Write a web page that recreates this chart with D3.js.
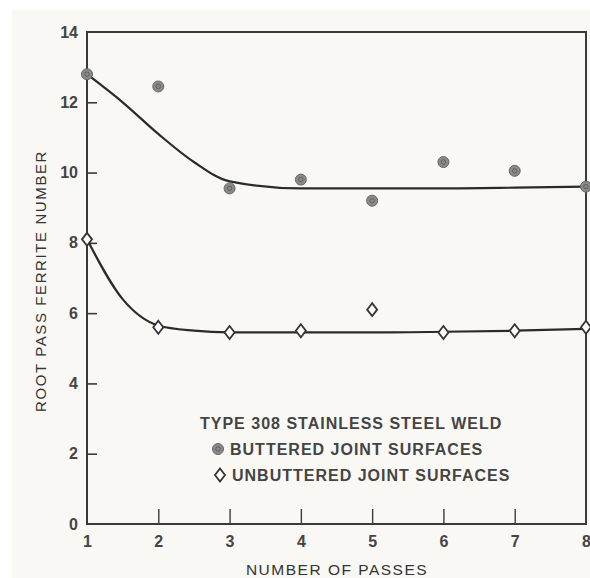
<!DOCTYPE html>
<html>
<head>
<meta charset="utf-8">
<script src="https://cdn.jsdelivr.net/npm/d3@7"></script>
<style>
  body { margin: 0; background: #fff; }
  svg text { font-family: "Liberation Sans", Arial, sans-serif; fill: #333; }
</style>
</head>
<body>
<svg id="drawing_region"></svg>
<script>
// measured values
const passes = [1, 2, 3, 4, 5, 6, 7, 8];
const buttered = [12.8, 12.45, 9.55, 9.8, 9.2, 10.3, 10.05, 9.6];
const unbuttered = [8.1, 5.6, 5.45, 5.5, 6.1, 5.45, 5.5, 5.6];

// hand-drawn fit curves
const fitX = [1, 1.5, 2, 2.5, 3, 4, 5, 6, 7, 8];
const butteredFit = [12.8, 12.0, 11.1, 10.3, 9.75, 9.55, 9.55, 9.55, 9.57, 9.6];
const unbutteredFit = [8.1, 6.4, 5.65, 5.5, 5.45, 5.45, 5.45, 5.47, 5.5, 5.55];

const yTicks = [0, 2, 4, 6, 8, 10, 12, 14];
const xTickLabels = ['1', '2', '3', '4', '5', '6', '7', '8'];

const legendTitle = 'TYPE 308 STAINLESS STEEL WELD';
const legendItems = ['BUTTERED JOINT SURFACES', 'UNBUTTERED JOINT SURFACES'];

const config = {
    width: 590,
    height: 578,
    margin: {top: 32, right: 4, bottom: 54, left: 87},
};

const svg = d3.select('#drawing_region')
    .attr('width', config.width)
    .attr('height', config.height);

svg.append('rect')
    .attr('x', 12).attr('y', 10)
    .attr('width', config.width - 12).attr('height', config.height - 10)
    .attr('fill', '#faf8f5');

const inner_width = config.width - config.margin.left - config.margin.right;
const inner_height = config.height - config.margin.top - config.margin.bottom;

const chart = svg.append('g')
    .attr('transform', `translate(${config.margin.left}, ${config.margin.top})`);

const xscale = d3.scaleLinear().domain([1, 8]).range([0, inner_width]);
const yscale = d3.scaleLinear().domain([0, 14]).range([inner_height, 0]);

const ink = '#3a3a3a';

// frame
chart.append('rect')
    .attr('width', inner_width)
    .attr('height', inner_height)
    .attr('fill', 'none')
    .attr('stroke', ink)
    .attr('stroke-width', 2);

// y axis (ticks inward)
const yaxis = d3.axisLeft(yscale)
    .tickValues(yTicks)
    .tickSize(-10)
    .tickPadding(9)
    .tickSizeOuter(0);
const yg = chart.append('g').call(yaxis);
yg.select('.domain').remove();
yg.selectAll('.tick line')
    .attr('stroke', ink).attr('stroke-width', 1.6)
    .attr('display', d => (d === 0 || d === 14) ? 'none' : null);
yg.selectAll('.tick text')
    .attr('font-size', 16).attr('font-weight', 'bold').style('fill', '#444');

// x axis (ticks inward)
const xaxis = d3.axisBottom(xscale)
    .tickValues(passes)
    .tickFormat((d, i) => xTickLabels[i])
    .tickSize(-15)
    .tickPadding(12)
    .tickSizeOuter(0);
const xg = chart.append('g')
    .attr('transform', `translate(0, ${inner_height})`)
    .call(xaxis);
xg.select('.domain').remove();
xg.selectAll('.tick line')
    .attr('stroke', ink).attr('stroke-width', 1.4)
    .attr('display', d => (d === 1 || d === 8) ? 'none' : null);
xg.selectAll('.tick text')
    .attr('font-size', 16).attr('font-weight', 'bold').style('fill', '#444');

// axis titles
svg.append('text')
    .attr('transform', 'translate(46, 281) rotate(-90)')
    .attr('text-anchor', 'middle')
    .attr('font-size', 15)
    .attr('letter-spacing', 1.6)
    .text('ROOT PASS FERRITE NUMBER');

svg.append('text')
    .attr('x', 337)
    .attr('y', 575)
    .attr('text-anchor', 'middle')
    .attr('font-size', 15.5)
    .attr('letter-spacing', 1.5)
    .text('NUMBER OF PASSES');

// fit curves
const line = d3.line()
    .x(d => xscale(d[0]))
    .y(d => yscale(d[1]))
    .curve(d3.curveMonotoneX);

chart.append('path')
    .attr('d', line(fitX.map((x, i) => [x, butteredFit[i]])))
    .attr('fill', 'none').attr('stroke', '#2a2a2a').attr('stroke-width', 2.2);
chart.append('path')
    .attr('d', line(fitX.map((x, i) => [x, unbutteredFit[i]])))
    .attr('fill', 'none').attr('stroke', '#2a2a2a').attr('stroke-width', 2.2);

// markers
function circleMark(g, cx, cy) {
    g.append('circle').attr('cx', cx).attr('cy', cy).attr('r', 5.5)
        .attr('fill', '#8a8a8a').attr('stroke', '#666').attr('stroke-width', 1);
    g.append('circle').attr('cx', cx).attr('cy', cy).attr('r', 2.2)
        .attr('fill', 'none').attr('stroke', '#555').attr('stroke-width', 0.8);
}
function diamondMark(g, cx, cy) {
    g.append('path')
        .attr('d', `M${cx},${cy - 6.5}L${cx + 5},${cy}L${cx},${cy + 6.5}L${cx - 5},${cy}Z`)
        .attr('fill', '#fff').attr('stroke', '#333').attr('stroke-width', 1.8);
}

const marks = chart.append('g');
passes.forEach((p, i) => {
    circleMark(marks, xscale(p), yscale(buttered[i]));
    diamondMark(marks, xscale(p), yscale(unbuttered[i]));
});

// legend
const legendStyle = t => t
    .attr('font-size', 16).attr('font-weight', 'bold').style('fill', '#444')
    .attr('letter-spacing', 1.0);
const legend = svg.append('g');
legend.append('text')
    .attr('x', 200).attr('y', 429)
    .call(legendStyle)
    .text(legendTitle);
circleMark(legend, 218, 449);
legend.append('text')
    .attr('x', 230).attr('y', 455)
    .call(legendStyle)
    .text(legendItems[0]);
diamondMark(legend, 220, 475);
legend.append('text')
    .attr('x', 232).attr('y', 481)
    .call(legendStyle)
    .text(legendItems[1]);
</script>
</body>
</html>
